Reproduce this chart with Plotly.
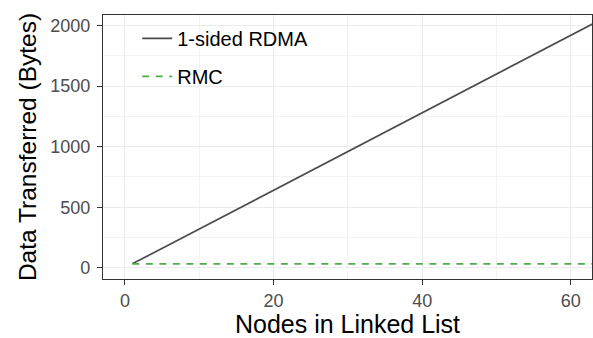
import plotly.graph_objects as go

# Bytes transferred while traversing a linked list of N nodes
nodes = [1, 8, 16, 24, 32, 40, 48, 56, 63]
rdma_bytes = [32, 256, 512, 768, 1024, 1280, 1536, 1792, 2016]
rmc_bytes = [32, 32, 32, 32, 32, 32, 32, 32, 32]

x_ticks = [0, 20, 40, 60]
y_ticks = [0, 500, 1000, 1500, 2000]

FONT = "Liberation Sans, Arial, Helvetica, sans-serif"
GRID = "#EBEBEB"
GRID_MINOR = "#F3F3F3"
FRAME = "#333333"

fig = go.Figure()
fig.add_trace(go.Scatter(
    x=nodes, y=rdma_bytes, mode="lines", name="1-sided RDMA",
    line=dict(color="#4D4D4D", width=1.7), legendgroup="a",
))
fig.add_trace(go.Scatter(
    x=nodes, y=rmc_bytes, mode="lines", name="RMC",
    line=dict(color="#4CAF48", width=1.7, dash="7px,6.5px"), legendgroup="b",
))

axis_common = dict(
    showline=True, linecolor=FRAME, linewidth=1.2, mirror=True,
    ticks="outside", ticklen=5, tickcolor=FRAME, tickwidth=1.2,
    tickfont=dict(family=FONT, size=18, color="#4D4D4D"),
    showgrid=True, gridcolor=GRID, gridwidth=1.3,
    zeroline=False,
)

fig.update_xaxes(
    range=[-2.95, 62.85], tickvals=x_ticks,
    title=dict(text="Nodes in Linked List", font=dict(family=FONT, size=25, color="black"), standoff=4),
    minor=dict(dtick=10, showgrid=True, gridcolor=GRID_MINOR, gridwidth=0.9),
    **axis_common,
)
fig.update_yaxes(
    range=[-93, 2088], tickvals=y_ticks, ticklabelstandoff=3,
    title=dict(text="Data Transferred (Bytes)", font=dict(family=FONT, size=24.5, color="black"), standoff=6),
    minor=dict(dtick=250, showgrid=True, gridcolor=GRID_MINOR, gridwidth=0.9),
    **axis_common,
)

fig.update_layout(
    width=593, height=338,
    margin=dict(l=103, r=1, t=15, b=59),
    paper_bgcolor="white", plot_bgcolor="white",
    showlegend=True,
    legend=dict(
        x=0.07, y=0.985, xanchor="left", yanchor="top",
        bgcolor="rgba(255,255,255,0)",
        font=dict(family=FONT, size=20, color="black"),
        itemwidth=30, tracegroupgap=9,
    ),
)

fig.write_html("out.html")
